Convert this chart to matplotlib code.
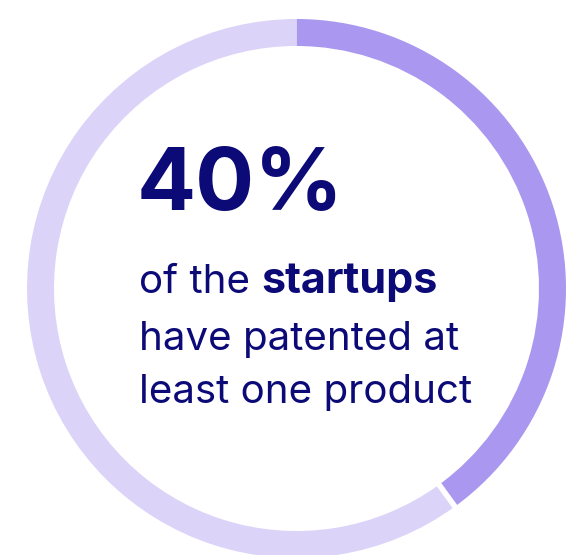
import matplotlib
matplotlib.use("Agg")
import matplotlib.pyplot as plt
import numpy as np

# data
share = [40, 60]            # % patented, rest
ring_colors = ["#aa97f0", "#dcd4f8"]
big_label = "40%"
line1_regular = "of the "
line1_bold = "startups"
lines_rest = ["have patented at", "least one product"]

W, H = 574, 555
fig = plt.figure(figsize=(W / 100, H / 100), dpi=100)
ax = fig.add_axes([0, 0, 1, 1])

cx, cy, r = 296.5, H - 288.5, 269.5
wedges, _ = ax.pie(share, colors=ring_colors, startangle=90, counterclock=False,
                   center=(cx, cy), radius=r, wedgeprops=dict(width=27, linewidth=0))
# small white gap at the end of the 40% arc
ang = np.deg2rad(wedges[0].theta1)
ax.plot([cx + (r - 30) * np.cos(ang), cx + (r + 3) * np.cos(ang)],
        [cy + (r - 30) * np.sin(ang), cy + (r + 3) * np.sin(ang)],
        color="white", lw=4, solid_capstyle="butt")

ax.set_xlim(0, W)
ax.set_ylim(0, H)
ax.set_aspect("equal")
ax.axis("off")

navy = "#0b0a77"
font = "Inter"
ax.text(137, H - 210, big_label, fontsize=63, fontweight="bold", color=navy,
        family=font, va="baseline", ha="left")

t = ax.text(139, H - 293, line1_regular, fontsize=29, color=navy, family=font,
            va="baseline", ha="left")
fig.canvas.draw()
bb = t.get_window_extent()
x_end = ax.transData.inverted().transform((bb.x1, bb.y0))[0]
ax.text(x_end, H - 293, line1_bold, fontsize=31, fontweight="bold", color=navy,
        family=font, va="baseline", ha="left")
for i, s in enumerate(lines_rest):
    ax.text(139, H - 350 - 53 * i, s, fontsize=29, color=navy, family=font,
            va="baseline", ha="left")

fig.savefig("out.png", dpi=100)
